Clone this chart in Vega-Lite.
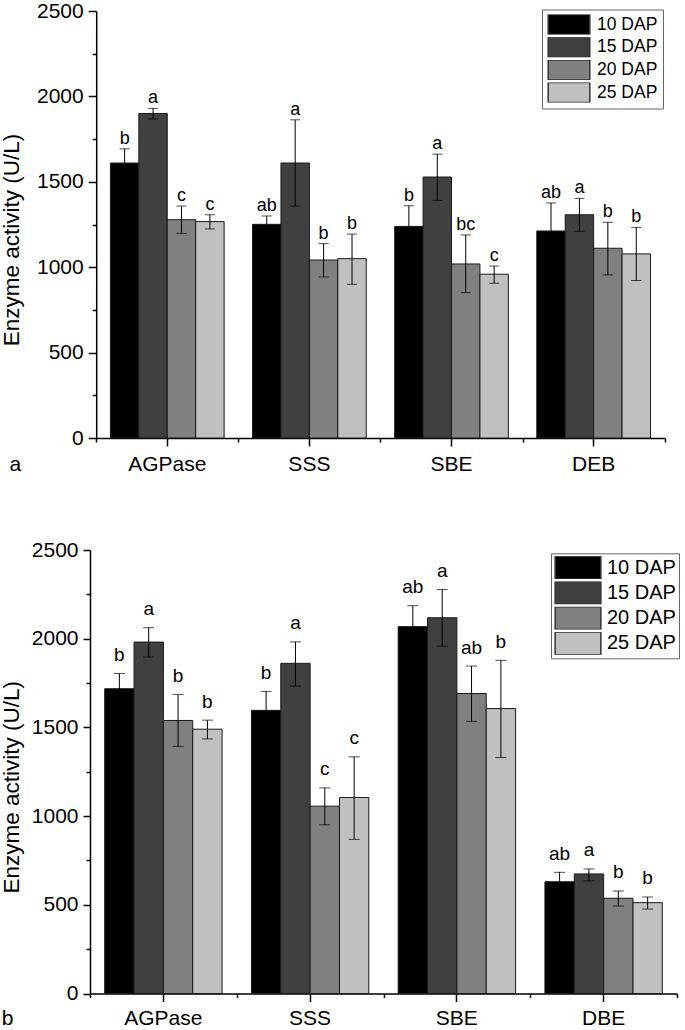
{
  "$schema": "https://vega.github.io/schema/vega-lite/v6.json",
  "background": "white",
  "padding": {"left": 0, "top": 0, "right": 0, "bottom": 0},
  "config": {
    "font": "Liberation Sans",
    "view": {"stroke": null},
    "axis": {
      "grid": false,
      "domainColor": "#000",
      "tickColor": "#000",
      "labelColor": "#000",
      "titleColor": "#000",
      "domainWidth": 1.5,
      "tickWidth": 1.5,
      "titleFontWeight": "normal",
      "labelFont": "Liberation Sans",
      "titleFont": "Liberation Sans"
    },
    "legend": {"labelFont": "Liberation Sans", "labelColor": "#000"}
  },
  "datasets": {
    "a": [
      {"enzyme": "AGPase", "dap": "10 DAP", "mean": 1610, "lo": 1527, "hi": 1693, "letter": "b"},
      {"enzyme": "AGPase", "dap": "15 DAP", "mean": 1900, "lo": 1868, "hi": 1930, "letter": "a"},
      {"enzyme": "AGPase", "dap": "20 DAP", "mean": 1278, "lo": 1198, "hi": 1358, "letter": "c"},
      {"enzyme": "AGPase", "dap": "25 DAP", "mean": 1267, "lo": 1224, "hi": 1307, "letter": "c"},
      {"enzyme": "SSS", "dap": "10 DAP", "mean": 1251, "lo": 1202, "hi": 1300, "letter": "ab"},
      {"enzyme": "SSS", "dap": "15 DAP", "mean": 1610, "lo": 1358, "hi": 1863, "letter": "a"},
      {"enzyme": "SSS", "dap": "20 DAP", "mean": 1042, "lo": 943, "hi": 1138, "letter": "b"},
      {"enzyme": "SSS", "dap": "25 DAP", "mean": 1050, "lo": 900, "hi": 1194, "letter": "b"},
      {"enzyme": "SBE", "dap": "10 DAP", "mean": 1239, "lo": 1118, "hi": 1360, "letter": "b"},
      {"enzyme": "SBE", "dap": "15 DAP", "mean": 1528, "lo": 1391, "hi": 1662, "letter": "a"},
      {"enzyme": "SBE", "dap": "20 DAP", "mean": 1019, "lo": 851, "hi": 1189, "letter": "bc"},
      {"enzyme": "SBE", "dap": "25 DAP", "mean": 959, "lo": 906, "hi": 1007, "letter": "c"},
      {"enzyme": "DEB", "dap": "10 DAP", "mean": 1212, "lo": 1048, "hi": 1376, "letter": "ab"},
      {"enzyme": "DEB", "dap": "15 DAP", "mean": 1307, "lo": 1210, "hi": 1403, "letter": "a"},
      {"enzyme": "DEB", "dap": "20 DAP", "mean": 1111, "lo": 955, "hi": 1263, "letter": "b"},
      {"enzyme": "DEB", "dap": "25 DAP", "mean": 1078, "lo": 922, "hi": 1233, "letter": "b"}
    ],
    "b": [
      {"enzyme": "AGPase", "dap": "10 DAP", "mean": 1718, "lo": 1632, "hi": 1804, "letter": "b"},
      {"enzyme": "AGPase", "dap": "15 DAP", "mean": 1981, "lo": 1897, "hi": 2062, "letter": "a"},
      {"enzyme": "AGPase", "dap": "20 DAP", "mean": 1539, "lo": 1393, "hi": 1686, "letter": "b"},
      {"enzyme": "AGPase", "dap": "25 DAP", "mean": 1490, "lo": 1435, "hi": 1541, "letter": "b"},
      {"enzyme": "SSS", "dap": "10 DAP", "mean": 1596, "lo": 1489, "hi": 1703, "letter": "b"},
      {"enzyme": "SSS", "dap": "15 DAP", "mean": 1861, "lo": 1733, "hi": 1982, "letter": "a"},
      {"enzyme": "SSS", "dap": "20 DAP", "mean": 1056, "lo": 951, "hi": 1159, "letter": "c"},
      {"enzyme": "SSS", "dap": "25 DAP", "mean": 1105, "lo": 869, "hi": 1334, "letter": "c"},
      {"enzyme": "SBE", "dap": "10 DAP", "mean": 2068, "lo": 1950, "hi": 2186, "letter": "ab"},
      {"enzyme": "SBE", "dap": "15 DAP", "mean": 2118, "lo": 1958, "hi": 2277, "letter": "a"},
      {"enzyme": "SBE", "dap": "20 DAP", "mean": 1691, "lo": 1534, "hi": 1846, "letter": "ab"},
      {"enzyme": "SBE", "dap": "25 DAP", "mean": 1606, "lo": 1330, "hi": 1878, "letter": "b"},
      {"enzyme": "DBE", "dap": "10 DAP", "mean": 630, "lo": 577, "hi": 683, "letter": "ab"},
      {"enzyme": "DBE", "dap": "15 DAP", "mean": 674, "lo": 635, "hi": 702, "letter": "a"},
      {"enzyme": "DBE", "dap": "20 DAP", "mean": 537, "lo": 493, "hi": 578, "letter": "b"},
      {"enzyme": "DBE", "dap": "25 DAP", "mean": 512, "lo": 476, "hi": 544, "letter": "b"}
    ]
  },
  "spacing": 65,
  "resolve": {
    "scale": {"x": "independent", "y": "independent", "fill": "independent", "xOffset": "independent"},
    "legend": {"fill": "independent"}
  },
  "vconcat": [
    {
      "width": 574.7,
      "height": 427,
      "data": {"name": "a"},
      "resolve": {"axis": {"x": "independent", "y": "independent"}},
      "layer": [
        {
          "mark": {"type": "bar", "stroke": "#1a1a1a", "strokeWidth": 1},
          "encoding": {
            "x": {"field": "enzyme", "type": "nominal", "sort": null,
              "scale": {"paddingInner": 0, "paddingOuter": 0, "range": [6.2, 574.7]},
              "axis": {"orient": "bottom", "tickSize": 8, "labelFontSize": 21, "labelPadding": 24, "labelBaseline": "alphabetic", "labelAngle": 0,
                "title": "a", "titleFontSize": 21, "titleX": -81, "titleY": 32, "titleAlign": "left", "titleBaseline": "alphabetic"}},
            "xOffset": {"field": "dap", "type": "nominal", "sort": null, "scale": {"paddingInner": 0, "paddingOuter": 0.5}},
            "y": {"field": "mean", "type": "quantitative", "scale": {"domain": [0, 2500], "nice": false},
              "axis": {"orient": "left", "offset": -6.2, "values": [0, 500, 1000, 1500, 2000, 2500], "format": "d", "tickSize": 8, "labelPadding": 5, "labelFontSize": 21, "labelFlush": false, "labelOverlap": false,
                "title": "Enzyme activity (U/L)", "titleFontSize": 22.5, "titlePadding": 12.8, "titleY": 228.5}},
            "fill": {"field": "dap", "type": "nominal", "sort": null,
              "scale": {"range": ["#000000", "#404040", "#808080", "#c0c0c0"]},
              "legend": {"title": null, "orient": "none", "legendX": 452, "legendY": -1.5, "direction": "vertical",
                "symbolType": "M-1,-0.48H1V0.48H-1Z", "symbolSize": 1730, "symbolStrokeColor": "#333", "symbolStrokeWidth": 1.5,
                "clipHeight": 20,
                "labelFontSize": 17.5, "labelOffset": 6, "rowPadding": 2.7, "padding": 5, "strokeColor": "#666", "fillColor": "white",
                "encode": {"symbols": {"update": {"stroke": {"value": "#333"}, "strokeWidth": {"value": 1.5}}}}}}
          }
        },
        {
          "mark": {"type": "rule", "color": "#000", "strokeWidth": 1},
          "encoding": {
            "x": {"field": "enzyme", "type": "nominal", "sort": null,
              "axis": {"orient": "bottom", "tickBand": "extent", "tickSize": 4, "labels": false, "domain": false, "title": null}},
            "xOffset": {"field": "dap", "type": "nominal", "sort": null},
            "y": {"field": "lo", "type": "quantitative", "scale": {"domain": [0, 2500], "nice": false},
              "axis": {"orient": "left", "offset": -6.2, "values": [250, 750, 1250, 1750, 2250], "tickSize": 4, "labels": false, "domain": false, "title": null}},
            "y2": {"field": "hi"}
          }
        },
        {
          "mark": {"type": "tick", "color": "#000", "size": 10, "thickness": 1},
          "encoding": {
            "x": {"field": "enzyme", "type": "nominal", "sort": null, "axis": null},
            "xOffset": {"field": "dap", "type": "nominal", "sort": null},
            "y": {"field": "hi", "type": "quantitative", "axis": null}
          }
        },
        {
          "mark": {"type": "tick", "color": "#000", "size": 10, "thickness": 1},
          "encoding": {
            "x": {"field": "enzyme", "type": "nominal", "sort": null, "axis": null},
            "xOffset": {"field": "dap", "type": "nominal", "sort": null},
            "y": {"field": "lo", "type": "quantitative", "axis": null}
          }
        },
        {
          "mark": {"type": "text", "baseline": "alphabetic", "dy": -5, "fontSize": 18, "color": "#000"},
          "encoding": {
            "x": {"field": "enzyme", "type": "nominal", "sort": null, "axis": null},
            "xOffset": {"field": "dap", "type": "nominal", "sort": null},
            "y": {"field": "hi", "type": "quantitative", "axis": null},
            "text": {"field": "letter"}
          }
        }
      ]
    },
    {
      "width": 587,
      "height": 443.5,
      "data": {"name": "b"},
      "resolve": {"axis": {"x": "independent", "y": "independent"}},
      "layer": [
        {
          "mark": {"type": "bar", "stroke": "#1a1a1a", "strokeWidth": 1},
          "encoding": {
            "x": {"field": "enzyme", "type": "nominal", "sort": null,
              "scale": {"paddingInner": 0, "paddingOuter": 0},
              "axis": {"orient": "bottom", "tickSize": 8, "labelFontSize": 21, "labelPadding": 23, "labelBaseline": "alphabetic", "labelAngle": 0,
                "title": "b", "titleFontSize": 21, "titleX": -88.7, "titleY": 31, "titleAlign": "left", "titleBaseline": "alphabetic"}},
            "xOffset": {"field": "dap", "type": "nominal", "sort": null, "scale": {"paddingInner": 0, "paddingOuter": 0.5}},
            "y": {"field": "mean", "type": "quantitative", "scale": {"domain": [0, 2500], "nice": false},
              "axis": {"orient": "left", "values": [0, 500, 1000, 1500, 2000, 2500], "format": "d", "tickSize": 7, "labelPadding": 5, "labelFontSize": 21, "labelFlush": false, "labelOverlap": false,
                "title": "Enzyme activity (U/L)", "titleFontSize": 22.5, "titlePadding": 8, "titleY": 236.7}},
            "fill": {"field": "dap", "type": "nominal", "sort": null,
              "scale": {"range": ["#000000", "#404040", "#808080", "#c0c0c0"]},
              "legend": {"title": null, "orient": "none", "legendX": 461, "legendY": 3.3, "direction": "vertical",
                "symbolType": "M-1,-0.5H1V0.5H-1Z", "symbolSize": 2088, "symbolStrokeColor": "#333", "symbolStrokeWidth": 1.5,
                "clipHeight": 22.8,
                "labelFontSize": 20, "labelOffset": 5, "rowPadding": 2.2, "padding": 3, "strokeColor": "#666", "fillColor": "white",
                "encode": {"symbols": {"update": {"stroke": {"value": "#333"}, "strokeWidth": {"value": 1.5}}}}}}
          }
        },
        {
          "mark": {"type": "rule", "color": "#000", "strokeWidth": 1},
          "encoding": {
            "x": {"field": "enzyme", "type": "nominal", "sort": null,
              "axis": {"orient": "bottom", "tickBand": "extent", "tickSize": 4, "labels": false, "domain": false, "title": null}},
            "xOffset": {"field": "dap", "type": "nominal", "sort": null},
            "y": {"field": "lo", "type": "quantitative", "scale": {"domain": [0, 2500], "nice": false},
              "axis": {"orient": "left", "values": [250, 750, 1250, 1750, 2250], "tickSize": 4, "labels": false, "domain": false, "title": null}},
            "y2": {"field": "hi"}
          }
        },
        {
          "mark": {"type": "tick", "color": "#000", "size": 11, "thickness": 1},
          "encoding": {
            "x": {"field": "enzyme", "type": "nominal", "sort": null, "axis": null},
            "xOffset": {"field": "dap", "type": "nominal", "sort": null},
            "y": {"field": "hi", "type": "quantitative", "axis": null}
          }
        },
        {
          "mark": {"type": "tick", "color": "#000", "size": 11, "thickness": 1},
          "encoding": {
            "x": {"field": "enzyme", "type": "nominal", "sort": null, "axis": null},
            "xOffset": {"field": "dap", "type": "nominal", "sort": null},
            "y": {"field": "lo", "type": "quantitative", "axis": null}
          }
        },
        {
          "mark": {"type": "text", "baseline": "alphabetic", "dy": -12.5, "fontSize": 19, "color": "#000"},
          "encoding": {
            "x": {"field": "enzyme", "type": "nominal", "sort": null, "axis": null},
            "xOffset": {"field": "dap", "type": "nominal", "sort": null},
            "y": {"field": "hi", "type": "quantitative", "axis": null},
            "text": {"field": "letter"}
          }
        }
      ]
    }
  ]
}
